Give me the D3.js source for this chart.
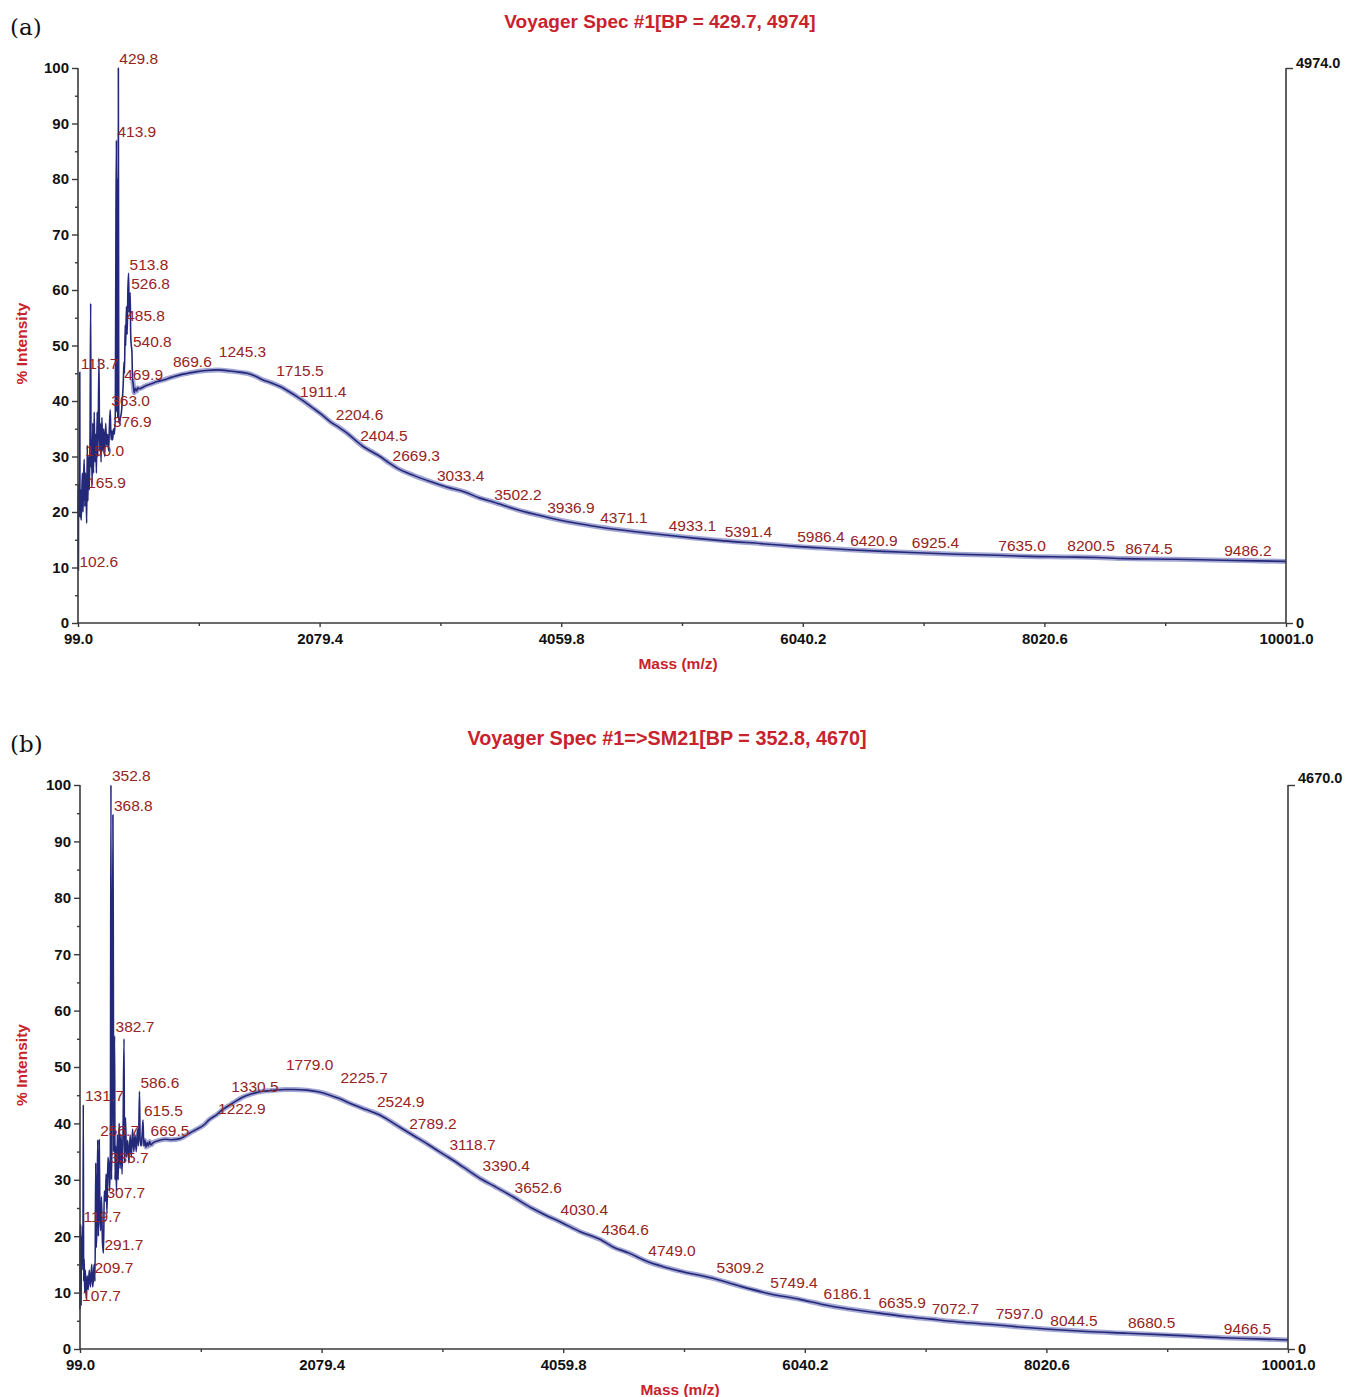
<!DOCTYPE html>
<html>
<head>
<meta charset="utf-8">
<script src="https://cdn.jsdelivr.net/npm/d3@7"></script>
<style>
  body { margin: 0; background: #fff; }
  svg { display: block; font-family: Arial, "Liberation Sans", sans-serif; }
</style>
</head>
<body>
<svg id="chart" width="1351" height="1397"></svg>
<script>
// axis labels shared by both spectra
const xTickLabels = [99.0, 2079.4, 4059.8, 6040.2, 8020.6, 10001.0];
const yTickLabels = [0, 10, 20, 30, 40, 50, 60, 70, 80, 90, 100];

// (a) Voyager Spec #1 : [mass, % intensity]
const spectrumA = [
  [99.0, 20], [100.5, 24], [101.5, 14], [102.6, 9.5], [103.5, 22], [105, 25], [107, 19],
  [109, 23], [111, 21], [112.5, 30], [113.7, 45.2], [115, 22], [118, 19], [121, 24],
  [125, 18.5], [130, 23], [135, 27], [140, 20], [145, 26], [150.0, 29.5], [155, 21],
  [160, 27], [165.9, 23.6], [170, 18], [175, 32], [180, 22], [186, 30], [192, 24],
  [198, 35], [203, 57.6], [206, 28], [210, 33], [215, 25], [220, 36], [226, 27],
  [232, 38], [238, 29], [244, 34], [250, 27], [256, 38], [262, 30], [271, 47.7],
  [276, 31], [282, 36], [288, 29], [295, 37], [302, 31], [310, 35], [318, 30],
  [326, 36], [334, 32], [342, 34], [350, 31], [356, 35], [363.0, 38.4], [370, 33],
  [376.9, 34.6], [383, 33], [390, 35], [398, 34], [405, 38], [410, 72], [413.9, 87],
  [417, 38], [421, 80], [425, 37], [429.8, 100], [433, 37], [440, 36], [447, 37],
  [455, 38], [462, 40], [469.9, 43.2], [476, 47], [480, 45], [485.8, 53.7], [490, 50],
  [496, 57], [502, 52], [508, 60], [513.8, 63], [518, 56], [522, 58], [526.8, 59.5],
  [531, 52], [536, 50], [540.8, 49], [546, 44], [552, 43], [560, 41.5], [570, 42.3],
  [580, 41.8], [590, 42.4], [600, 42.2], [650, 42.7], [700, 43.1], [750, 43.5],
  [800, 43.8], [869.6, 44.3], [950, 44.8], [1000, 45.0], [1074, 45.3], [1150, 45.5],
  [1245.3, 45.6], [1345, 45.4], [1420, 45.2], [1485, 45.0], [1550, 44.5], [1616, 43.8],
  [1680, 43.3], [1755, 42.6], [1820, 41.8], [1894, 40.8], [1960, 39.8], [2026, 38.7],
  [2100, 37.5], [2165, 36.3], [2235, 35.3], [2305, 34.2], [2370, 33.0], [2436, 31.8],
  [2505, 30.9], [2575, 30.0], [2645, 28.9], [2715, 27.9], [2850, 26.6], [2985, 25.5],
  [3120, 24.5], [3256, 23.7], [3395, 22.5], [3502.2, 21.8], [3700, 20.4], [3936.9, 19.1],
  [4150, 18.1], [4371.1, 17.3], [4650, 16.5], [4933.1, 15.8], [5150, 15.3],
  [5391.4, 14.8], [5700, 14.3], [5986.4, 13.8], [6200, 13.5], [6420.9, 13.2],
  [6700, 12.9], [6925.4, 12.7], [7300, 12.4], [7635.0, 12.2], [7900, 12.0],
  [8200.5, 11.9], [8450, 11.8], [8674.5, 11.6], [9100, 11.5], [9486.2, 11.3],
  [9750, 11.2], [10001, 11.1]
];
const peaksA = [
  [102.6, 9.5], [113.7, 45.2], [150.0, 29.5], [165.9, 23.6], [363.0, 38.4], [376.9, 34.6],
  [413.9, 87], [429.8, 100], [469.9, 43.2], [485.8, 53.7], [513.8, 63], [526.8, 59.5],
  [540.8, 49], [869.6, 45.4], [1245.3, 47.2], [1715.5, 43.8], [1911.4, 40], [2204.6, 35.9],
  [2404.5, 32.1], [2669.3, 28.6], [3033.4, 25], [3502.2, 21.6], [3936.9, 19.1],
  [4371.1, 17.3], [4933.1, 15.9], [5391.4, 14.8], [5986.4, 13.9], [6420.9, 13.3],
  [6925.4, 12.8], [7635.0, 12.4], [8200.5, 12.3], [8674.5, 11.7], [9486.2, 11.5]
];

// (b) Voyager Spec #1=>SM21
const spectrumB = [
  [99.0, 7], [100, 14], [101, 20], [103, 22], [105, 16], [107.7, 7.8], [110, 18],
  [113, 20], [116, 15], [119.7, 21.8], [123, 14], [126, 43.3], [129, 12], [133, 16],
  [138, 10], [143, 14], [150, 9], [158, 13], [166, 10.5], [175, 14], [185, 11],
  [195, 15], [203, 11], [209.7, 12.9], [215, 15], [222, 12], [228, 33], [232, 18],
  [238, 22], [244, 37.1], [250, 20], [256.7, 37.1], [262, 24], [268, 21], [275, 27],
  [283, 19], [291.7, 17], [298, 28], [307.7, 26.2], [313, 31], [320, 24], [328, 34],
  [335.7, 32.4], [342, 28], [348, 35], [352.8, 100], [357, 30], [362, 40],
  [368.8, 94.7], [372, 71.2], [375, 35], [378, 48], [382.7, 55.5], [386, 30],
  [392, 36], [398, 28], [405, 38], [412, 30], [420, 40], [428, 32], [436, 38],
  [444, 31], [452, 39], [460, 55], [464, 33], [472, 41], [480, 34], [490, 37],
  [500, 33], [510, 38], [520, 34], [530, 39], [540, 35], [550, 38], [560, 35],
  [570, 39], [578, 36], [586.6, 45.7], [592, 37], [600, 36], [608, 38], [615.5, 40.6],
  [622, 36], [630, 37], [640, 35.8], [650, 36.6], [660, 36], [669.5, 36.8], [680, 36.2],
  [700, 36.6], [750, 37.0], [800, 37.2], [850, 37.1], [919, 37.3], [1000, 38.3],
  [1050, 38.9], [1124, 39.9], [1150, 40.5], [1222.9, 41.6], [1260, 42.3], [1300, 42.9],
  [1330.5, 43.3], [1380, 44.0], [1420, 44.5], [1460, 44.9], [1500, 45.2], [1550, 45.5],
  [1600, 45.7], [1650, 45.8], [1700, 45.9], [1779.0, 46.0], [1850, 46.0], [1960, 45.9],
  [2050, 45.6], [2148, 45.0], [2225.7, 44.4], [2330, 43.4], [2450, 42.4], [2557, 41.5],
  [2700, 39.6], [2828, 37.9], [2950, 36.3], [3050, 34.9], [3118.7, 34.0], [3238, 32.3],
  [3390.4, 30.1], [3500, 28.8], [3648, 27.0], [3800, 25.0], [3900, 23.9], [4058, 22.3],
  [4200, 20.8], [4364.6, 19.4], [4468, 18.1], [4600, 17.0], [4749.0, 15.5], [4878, 14.6],
  [5000, 13.9], [5309.2, 12.4], [5500, 11.2], [5749.4, 9.8], [6000, 8.8], [6186.1, 7.9],
  [6400, 7.1], [6635.9, 6.4], [6850, 5.8], [7072.7, 5.3], [7300, 4.8], [7597.0, 4.3],
  [7800, 3.9], [8044.5, 3.5], [8350, 3.1], [8680.5, 2.8], [9000, 2.5], [9466.5, 2.0],
  [9750, 1.8], [10001, 1.6]
];
const peaksB = [
  [107.7, 7.8], [119.7, 21.8], [131.7, 43.3], [209.7, 12.9], [256.7, 37.1], [291.7, 17],
  [307.7, 26.2], [335.7, 32.4], [352.8, 100], [368.8, 94.7], [382.7, 55.5], [586.6, 45.7],
  [615.5, 40.6], [669.5, 37.1], [1222.9, 41], [1330.5, 44.9], [1779.0, 48.8],
  [2225.7, 46.5], [2524.9, 42.2], [2789.2, 38.3], [3118.7, 34.6], [3390.4, 30.9],
  [3652.6, 27.1], [4030.4, 23.2], [4364.6, 19.5], [4749.0, 15.8], [5309.2, 12.9],
  [5749.4, 10.1], [6186.1, 8.2], [6635.9, 6.7], [7072.7, 5.5], [7597.0, 4.6],
  [8044.5, 3.5], [8680.5, 3.0], [9466.5, 2.1]
];

const svg = d3.select('#chart');
const fmt1 = d3.format('.1f');

function styleAxis(sel) {
  sel.select('.domain').remove();
  sel.selectAll('.tick line').attr('stroke', '#3a3a3a').attr('stroke-width', 1.4);
  sel.selectAll('text').attr('font-size', '15px').attr('font-weight', 'bold').attr('fill', '#111');
}

function drawPanel(p) {
  const x = d3.scaleLinear().domain([xTickLabels[0], xTickLabels[xTickLabels.length - 1]]).range([p.left, p.right]);
  const y = d3.scaleLinear().domain([0, 100]).range([p.bottom, p.top]);
  const yRight = d3.scaleLinear().domain([0, p.count]).range([p.bottom, p.top]);
  const g = svg.append('g');

  // 패널 라벨 / 제목
  g.append('text').attr('x', 10).attr('y', p.top - 33)
    .attr('font-family', '"DejaVu Serif", "Liberation Serif", serif').attr('font-size', '23px')
    .attr('fill', '#111').text(p.tag);
  g.append('text').attr('x', p.titleX).attr('y', p.top - 40).attr('text-anchor', 'middle')
    .attr('font-size', p.titleSize).attr('font-weight', 'bold').attr('fill', '#c8222c').text(p.title);

  const line = d3.line().x(d => x(d[0])).y(d => y(d[1])).curve(d3.curveMonotoneX);

  // 스펙트럼 (노이즈 띠 + 중심선)
  g.append('path')
    .datum(p.spectrum.filter(d => d[0] >= p.bandFrom))
    .attr('fill', 'none')
    .attr('stroke', '#5a5fae')
    .attr('stroke-opacity', 0.55)
    .attr('stroke-width', 5)
    .attr('stroke-linejoin', 'round')
    .attr('d', line);
  g.append('path')
    .datum(p.spectrum)
    .attr('fill', 'none')
    .attr('stroke', '#232879')
    .attr('stroke-width', 1.6)
    .attr('stroke-linejoin', 'round')
    .attr('d', line);

  // 피크 라벨
  g.selectAll('.peak')
    .data(p.peaks)
    .enter()
    .append('text')
    .attr('x', d => x(d[0]) + 1)
    .attr('y', d => y(d[1]) - 3.6)
    .attr('font-size', '15.5px')
    .attr('fill', '#952424')
    .text(d => fmt1(d[0]));

  // 왼쪽 축
  g.append('g').attr('transform', `translate(${p.left},0)`)
    .call(d3.axisLeft(y).tickValues(d3.range(5, 100, 10)).tickSize(3).tickFormat(''))
    .call(styleAxis);
  g.append('g').attr('transform', `translate(${p.left},0)`)
    .call(d3.axisLeft(y).tickValues(yTickLabels).tickSize(6).tickPadding(3))
    .call(styleAxis);

  // 아래 축
  const minor = xTickLabels.slice(1).map((v, i) => (v + xTickLabels[i]) / 2);
  g.append('g').attr('transform', `translate(0,${p.bottom})`)
    .call(d3.axisBottom(x).tickValues(minor).tickSize(3).tickFormat(''))
    .call(styleAxis);
  g.append('g').attr('transform', `translate(0,${p.bottom})`)
    .call(d3.axisBottom(x).tickValues(xTickLabels).tickSize(4).tickPadding(6).tickFormat(fmt1))
    .call(styleAxis);

  // 오른쪽 축 (counts)
  const right = g.append('g').attr('transform', `translate(${p.right},0)`)
    .call(d3.axisRight(yRight).tickValues([0, p.count]).tickSize(7).tickPadding(3)
      .tickFormat(d => d === 0 ? '0' : fmt1(d)))
    .call(styleAxis);
  right.selectAll('text').attr('font-size', '14.5px')
    .attr('transform', d => d === 0 ? null : `translate(0,${p.countShift})`);

  // 축 선
  const axisLines = [
    [p.left, p.bottom, p.left, p.top],
    [p.left, p.bottom, p.right, p.bottom],
    [p.right, p.bottom, p.right, p.top]
  ];
  g.selectAll('.axis-line')
    .data(axisLines)
    .enter()
    .append('line')
    .attr('x1', d => d[0]).attr('y1', d => d[1])
    .attr('x2', d => d[2]).attr('y2', d => d[3])
    .attr('stroke', '#3a3a3a').attr('stroke-width', 1.6);

  // 축 제목
  g.append('text').attr('x', (p.left + p.right) / 2 - 4).attr('y', p.bottom + 46)
    .attr('text-anchor', 'middle').attr('font-size', '15.5px').attr('font-weight', 'bold')
    .attr('fill', '#c8222c').text('Mass (m/z)');
  g.append('text')
    .attr('transform', `translate(27,${(p.top + p.bottom) / 2 - 2}) rotate(-90)`)
    .attr('text-anchor', 'middle').attr('font-size', '15.5px').attr('font-weight', 'bold')
    .attr('fill', '#c8222c').text('% Intensity');
}

drawPanel({
  tag: '(a)', title: 'Voyager Spec #1[BP = 429.7, 4974]', titleX: 660, titleSize: '19px',
  left: 78, right: 1286, top: 68, bottom: 623, count: 4974.0, countShift: -5,
  spectrum: spectrumA, peaks: peaksA, bandFrom: 546
});
drawPanel({
  tag: '(b)', title: 'Voyager Spec #1=>SM21[BP = 352.8, 4670]', titleX: 667, titleSize: '19.8px',
  left: 80, right: 1288, top: 785, bottom: 1349, count: 4670.0, countShift: -7,
  spectrum: spectrumB, peaks: peaksB, bandFrom: 622
});
</script>
</body>
</html>
